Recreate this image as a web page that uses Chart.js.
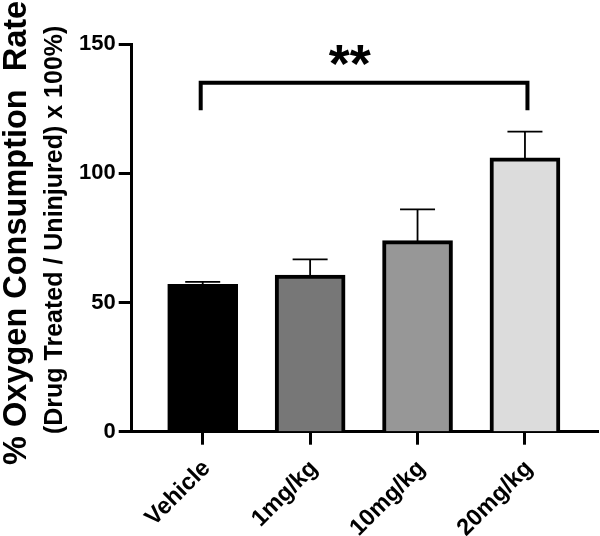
<!DOCTYPE html>
<html><head><meta charset="utf-8">
<script src="https://cdn.jsdelivr.net/npm/chart.js@4.4.1/dist/chart.umd.min.js"></script>
<style>html,body{margin:0;padding:0;background:#fff}#wrap{width:600px;height:536px}</style>
</head><body><div id="wrap"><canvas id="c" width="600" height="536"></canvas></div>
<script>
const categories = ['Vehicle', '1mg/kg', '10mg/kg', '20mg/kg'];
const meanValues = [57.0, 60.6, 73.9, 106.0];
const semValues = [1.0, 6.1, 12.1, 10.1];
const barColors = ['#000000', '#777777', '#979797', '#dcdcdc'];
const yTicks = [0, 50, 100, 150];
const yTitle = '% Oxygen Consumption  Rate';
const ySubtitle = '(Drug Treated / Uninjured) x 100%)';
const sigFrom = 0;
const sigTo = 3;
const sigLevel = 135;
const sigDrop = 124.4;
const sigLabel = '**';

const FONT = '"Liberation Sans", Arial, Helvetica, sans-serif';
const points = categories.map((c, i) => ({x: i, y: meanValues[i]}));

const errorBars = {
  id: 'errorBars',
  afterDatasetsDraw(chart) {
    const {ctx, scales: {x, y}} = chart;
    ctx.save();
    ctx.strokeStyle = '#000';
    ctx.lineWidth = 1.8;
    meanValues.forEach((m, i) => {
      const px = x.getPixelForValue(i);
      const base = y.getPixelForValue(m) + 3;
      const top = y.getPixelForValue(m + semValues[i]);
      ctx.beginPath();
      ctx.moveTo(px, base); ctx.lineTo(px, top);
      ctx.moveTo(px - 17.5, top); ctx.lineTo(px + 17.5, top);
      ctx.stroke();
    });
    ctx.restore();
  }
};

const sigBracket = {
  id: 'sigBracket',
  afterDatasetsDraw(chart) {
    const {ctx, scales: {x, y}} = chart;
    const x0 = x.getPixelForValue(sigFrom) - 2;
    const x1 = x.getPixelForValue(sigTo) + 2.5;
    const yl = y.getPixelForValue(sigLevel);
    const yd = y.getPixelForValue(sigDrop);
    ctx.save();
    ctx.strokeStyle = '#000';
    ctx.lineWidth = 4;
    ctx.lineJoin = 'miter';
    ctx.beginPath();
    ctx.moveTo(x0, yd); ctx.lineTo(x0, yl); ctx.lineTo(x1, yl); ctx.lineTo(x1, yd);
    ctx.stroke();
    ctx.fillStyle = '#000';
    ctx.font = 'bold 54px ' + FONT;
    ctx.textAlign = 'center';
    ctx.textBaseline = 'alphabetic';
    ctx.fillText(sigLabel, x.getPixelForValue(1.37), yl - 0.5);
    ctx.restore();
  }
};

const yTitles = {
  id: 'yTitles',
  afterDraw(chart) {
    const {ctx, chartArea} = chart;
    const cy = (chartArea.top + chartArea.bottom) / 2;
    ctx.save();
    ctx.fillStyle = '#000';
    ctx.textAlign = 'center';
    ctx.textBaseline = 'alphabetic';
    ctx.translate(25.5, cy - 5);
    ctx.rotate(-Math.PI / 2);
    ctx.font = 'bold 32.5px ' + FONT;
    ctx.fillText(yTitle, 0, 0);
    ctx.restore();
    ctx.save();
    ctx.fillStyle = '#000';
    ctx.textAlign = 'center';
    ctx.textBaseline = 'alphabetic';
    ctx.translate(62, cy - 8);
    ctx.rotate(-Math.PI / 2);
    ctx.font = 'bold 25px ' + FONT;
    ctx.fillText(ySubtitle, 0, 0);
    ctx.restore();
  }
};

new Chart(document.getElementById('c'), {
  type: 'bar',
  data: {
    datasets: [{
      data: points,
      backgroundColor: barColors,
      borderColor: '#000',
      borderWidth: 4,
      borderSkipped: 'start',
      barThickness: 70
    }]
  },
  options: {
    responsive: false,
    animation: false,
    devicePixelRatio: 1,
    layout: {padding: {left: 0, right: 2, top: 44, bottom: 0}},
    plugins: {legend: {display: false}, tooltip: {enabled: false}},
    scales: {
      x: {
        type: 'linear',
        offset: false,
        min: -0.661,
        max: 3.68,
        afterBuildTicks: s => { s.ticks = categories.map((c, i) => ({value: i})); },
        afterFit: s => { s.height = 104.3; },
        ticks: {
          autoSkip: false, minRotation: 45, maxRotation: 45,
          callback: v => categories[v],
          font: {family: FONT, size: 23.5, weight: 'bold'},
          color: '#000', padding: 10, labelOffset: 4
        },
        grid: {offset: false, drawOnChartArea: false, tickLength: 13, tickWidth: 3, tickColor: '#000'},
        border: {color: '#000', width: 3}
      },
      y: {
        min: 0, max: 150,
        afterBuildTicks: s => { s.ticks = yTicks.map(v => ({value: v})); },
        afterFit: s => { s.width = 131.7; },
        ticks: {
          font: {family: FONT, size: 22, weight: 'bold'},
          color: '#000', padding: 3
        },
        grid: {drawOnChartArea: false, tickLength: 13, tickWidth: 3, tickColor: '#000'},
        border: {color: '#000', width: 3}
      }
    }
  },
  plugins: [errorBars, sigBracket, yTitles]
});
</script>
</body></html>
